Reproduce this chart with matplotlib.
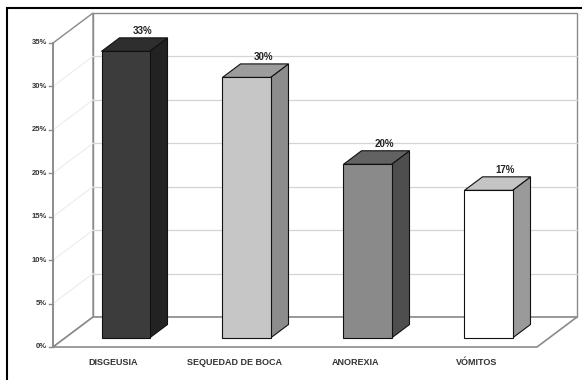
import matplotlib.pyplot as plt
from matplotlib.patches import Polygon, Rectangle
import numpy as np

categories = ['DISGEUSIA', 'SEQUEDAD DE BOCA', 'ANOREXIA', 'VÓMITOS']
values = [33, 30, 20, 17]
value_labels = ['33%', '30%', '20%', '17%']
yticks = [0, 5, 10, 15, 20, 25, 30, 35]
ytick_labels = ['0%', '5%', '10%', '15%', '20%', '25%', '30%', '35%']

# face colours per bar: front, side, top
front_colors = ['#3c3c3c', '#c6c6c6', '#8a8a8a', '#ffffff']
side_colors = ['#222222', '#8c8c8c', '#4e4e4e', '#9a9a9a']
top_colors = ['#2e2e2e', '#9c9c9c', '#626262', '#c4c4c4']

plt.rcParams['font.family'] = ['Liberation Sans', 'DejaVu Sans']

W, H = 582, 380
fig = plt.figure(figsize=(W / 100, H / 100), dpi=100)
ax = fig.add_axes([0, 0, 1, 1])
ax.set_axis_off()

# one category slot = 121 px, 1 % = 8.686 px, origin at (53, 347) px
cat_px = 121.0
pct_px = 8.686
ax.set_xlim(-53 / cat_px, (W - 53) / cat_px)
ax.set_ylim(-(H - 347) / pct_px, 347 / pct_px)

# oblique depth vector (full depth of the box)
DX = 40 / cat_px
DY = 30 / pct_px
n = len(categories)
ymax = 35


def P(x, y, z):
    return (x + z * DX, y + z * DY)


frame_c = '#8a8a8a'
grid_c = '#d4d4d4'

# back wall
ax.add_patch(Polygon([P(0, 0, 1), P(n, 0, 1), P(n, ymax, 1), P(0, ymax, 1)],
                     closed=True, facecolor='white', edgecolor=frame_c, lw=1.0, zorder=1))
# left wall
ax.add_patch(Polygon([P(0, 0, 0), P(0, 0, 1), P(0, ymax, 1), P(0, ymax, 0)],
                     closed=True, facecolor='white', edgecolor=frame_c, lw=1.0, zorder=1))
# floor
ax.add_patch(Polygon([P(0, 0, 0), P(n, 0, 0), P(n, 0, 1), P(0, 0, 1)],
                     closed=True, facecolor='white', edgecolor=frame_c, lw=1.2, zorder=1))

for v in yticks[1:-1]:
    a, b = P(0, v, 1), P(n, v, 1)
    ax.plot([a[0], b[0]], [a[1], b[1]], color=grid_c, lw=0.9, zorder=1.5)
    c, d = P(0, v, 0), P(0, v, 1)
    ax.plot([c[0], d[0]], [c[1], d[1]], color='#ececec', lw=0.8, zorder=1.5)

# front value axis with ticks
a, b = P(0, 0, 0), P(0, ymax, 0)
ax.plot([a[0], b[0]], [a[1], b[1]], color=frame_c, lw=1.2, zorder=2)
for v, lab in zip(yticks, ytick_labels):
    ax.plot([-0.035, 0], [v, v], color=frame_c, lw=1.0, zorder=2)
    ax.text(-0.05, v, lab, ha='right', va='center', fontsize=5.5,
            fontweight='bold', color='#333333')

# bars
bar_w = 48 / cat_px
z0, z1 = 0.3, 0.75
for i, (val, lab) in enumerate(zip(values, value_labels)):
    cx = i + 0.5
    x0, x1 = cx - bar_w / 2, cx + bar_w / 2
    side = [P(x1, 0, z0), P(x1, 0, z1), P(x1, val, z1), P(x1, val, z0)]
    top = [P(x0, val, z0), P(x1, val, z0), P(x1, val, z1), P(x0, val, z1)]
    front = [P(x0, 0, z0), P(x1, 0, z0), P(x1, val, z0), P(x0, val, z0)]
    for pts, col in ((side, side_colors[i]), (top, top_colors[i]), (front, front_colors[i])):
        ax.add_patch(Polygon(pts, closed=True, facecolor=col, edgecolor='#111111',
                             lw=0.8, zorder=3 + i * 0.1))
    fx, _ = P(cx, val, z0)
    _, ty = P(cx, val, z1)
    ax.text(fx + 0.14, ty + 0.2, lab, ha='center', va='bottom', fontsize=7,
            fontweight='bold', color='#222222', zorder=5)

# category labels
for i, cat in enumerate(categories):
    ax.text(i + 0.5, -1.75, cat, ha='center', va='center', fontsize=6.5,
            fontweight='bold', color='#333333')

# outer frame
fig.patches.append(Rectangle((7 / W, -0.05), 1.1, 1 - 8 / H + 0.05, transform=fig.transFigure,
                             fill=False, edgecolor='black', lw=1.5, zorder=10))

fig.savefig('out.png', dpi=100, facecolor='white')
